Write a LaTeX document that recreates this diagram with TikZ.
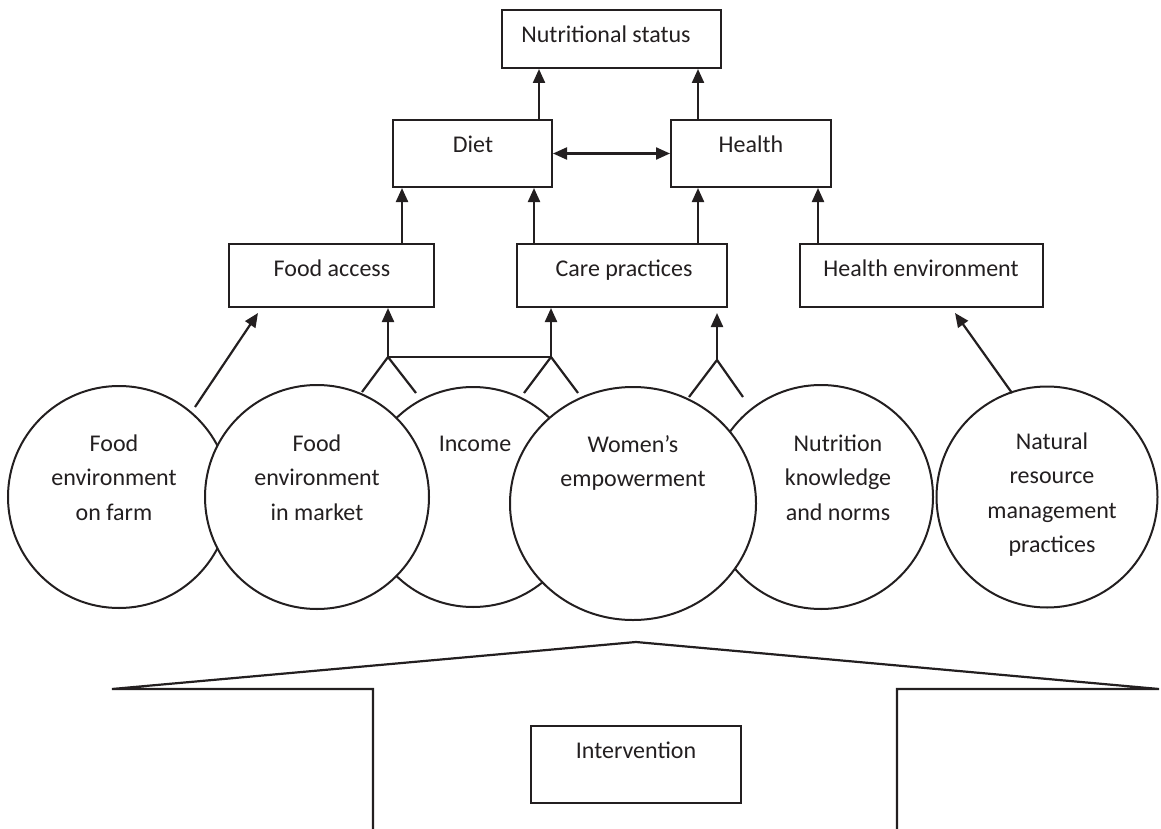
\documentclass[tikz,border=0pt]{standalone}
\usepackage{fontspec}
\setmainfont{Carlito}
\usetikzlibrary{arrows.meta,calc,shapes.geometric}
\definecolor{ink}{RGB}{35,31,32}
\begin{document}
\begin{tikzpicture}[x=1pt,y=-1pt,
  box/.style={draw=ink, line width=2pt, inner sep=0pt, rectangle},
  txt/.style={font=\fontsize{24}{34.5}\selectfont, text=ink, inner sep=0pt, align=center},
  circ/.style={draw=ink, fill=white, circle, inner sep=0pt, line width=2pt},
  arr/.style={-{Triangle[width=12pt,length=14pt]}, line width=2.2pt, draw=ink},
  arrs/.style={{Triangle[width=12pt,length=14pt]}-{Triangle[width=12pt,length=14pt]}, line width=2.2pt, draw=ink},
  ln/.style={line width=2.2pt, draw=ink}]
\useasboundingbox (0,0) rectangle (1161,829);

% boxes
\node[box, minimum width=219pt, minimum height=58pt] (ns) at (611.5,39) {};
\node[box, minimum width=159pt, minimum height=67pt] (diet) at (472.5,153.5) {};
\node[box, minimum width=160pt, minimum height=67pt] (health) at (751,153.5) {};
\node[box, minimum width=205pt, minimum height=63pt] (fa) at (331.5,275.5) {};
\node[box, minimum width=210pt, minimum height=63pt] (care) at (622,275.5) {};
\node[box, minimum width=243pt, minimum height=63pt] (he) at (921.5,275.5) {};
\node[box, minimum width=210pt, minimum height=77pt] (int) at (636,764.5) {};

\node[txt, anchor=base] (ns-t) at (606,43) {Nutritional status};
\node[txt, anchor=base] (diet-t) at (473,153) {Diet};
\node[txt, anchor=base] (health-t) at (751,153) {Health};
\node[txt, anchor=base] (fa-t) at (332,276) {Food access};
\node[txt, anchor=base] (care-t) at (624,276) {Care practices};
\node[txt, anchor=base] (he-t) at (921,276) {Health environment};
\node[txt, anchor=base] (int-t) at (636,758) {Intervention};

% circles (back ones first)
\node[circ, minimum size=222pt] (farm) at (119,497) {};
\node[circ, minimum size=220pt] (income) at (473,497) {};
\node[circ, minimum size=224pt] (nutr) at (821,497) {};
\node[circ, minimum size=221pt] (nat) at (1047,497) {};
\node[circ, minimum size=224pt] (market) at (317,497) {};
\node[draw=ink, fill=white, ellipse, inner sep=0pt, line width=2pt,
      minimum width=246pt, minimum height=233pt] (women) at (633,503.5) {};

% multi-line texts: base anchor = baseline of the last line
\node[txt, anchor=base] (farm-t) at (114,520) {Food\\environment\\on farm};
\node[txt, anchor=base] (market-t) at (317,520) {Food\\environment\\in market};
\node[txt, anchor=base] (income-t) at (475,451) {Income};
\node[txt, anchor=base] (women-t) at (633,486.5) {Women’s\\empowerment};
\node[txt, anchor=base] (nutr-t) at (838,520) {Nutrition\\knowledge\\and norms};
\node[txt, anchor=base] (nat-t) at (1052,552.5) {Natural\\resource\\management\\practices};

% vertical arrows between boxes
\coordinate (xa) at (539,0);
\coordinate (xb) at (698,0);
\coordinate (xc) at (402,0);
\coordinate (xd) at (534,0);
\coordinate (xe) at (818,0);
\draw[arr] (diet.north -| xa) -- (ns.south -| xa);
\draw[arr] (health.north -| xb) -- (ns.south -| xb);
\draw[arrs] (diet.east) -- (health.west);
\draw[arr] (fa.north -| xc) -- (diet.south -| xc);
\draw[arr] (care.north -| xd) -- (diet.south -| xd);
\draw[arr] (care.north -| xb) -- (health.south -| xb);
\draw[arr] (he.north -| xe) -- (health.south -| xe);

% diagonal arrows
\coordinate (farm-s) at (195,407);
\coordinate (farm-e) at (258,313);
\draw[arr] (farm-s) -- (farm-e);
\coordinate (nat-s) at (1012,393);
\coordinate (nat-e) at (955,313);
\draw[arr] (nat-s) -- (nat-e);

% forks
\coordinate (f1) at (388,357);
\coordinate (f1a) at (362,392);
\coordinate (f1b) at (416,393);
\coordinate (f2) at (551,357);
\coordinate (f2a) at (524,393);
\coordinate (f2b) at (578,393);
\coordinate (f3) at (717,360);
\coordinate (f3a) at (689,397);
\coordinate (f3b) at (743,397);
\coordinate (f3e) at (717,313);
\draw[ln] (f1a) -- (f1) -- (f1b);
\draw[ln] (f2a) -- (f2) -- (f2b);
\draw[ln] (f3a) -- (f3) -- (f3b);
\draw[ln] (f1) -- (f2);
\draw[arr] (f1) -- (f1 |- fa.south);
\draw[arr] (f2) -- (f2 |- care.south);
\draw[arr] (f3) -- (f3e);

% roof / platform
\coordinate (rl) at (112,689);
\coordinate (apex) at (636,642);
\coordinate (rr) at (1159,689);
\coordinate (cl) at (373,689);
\coordinate (bl) at (373,829);
\coordinate (cr) at (897,689);
\coordinate (br) at (897,829);
\draw[ln] (bl) -- (cl) -- (rl) -- (apex) -- (rr) -- (cr) -- (br);
\end{tikzpicture}
\end{document}
